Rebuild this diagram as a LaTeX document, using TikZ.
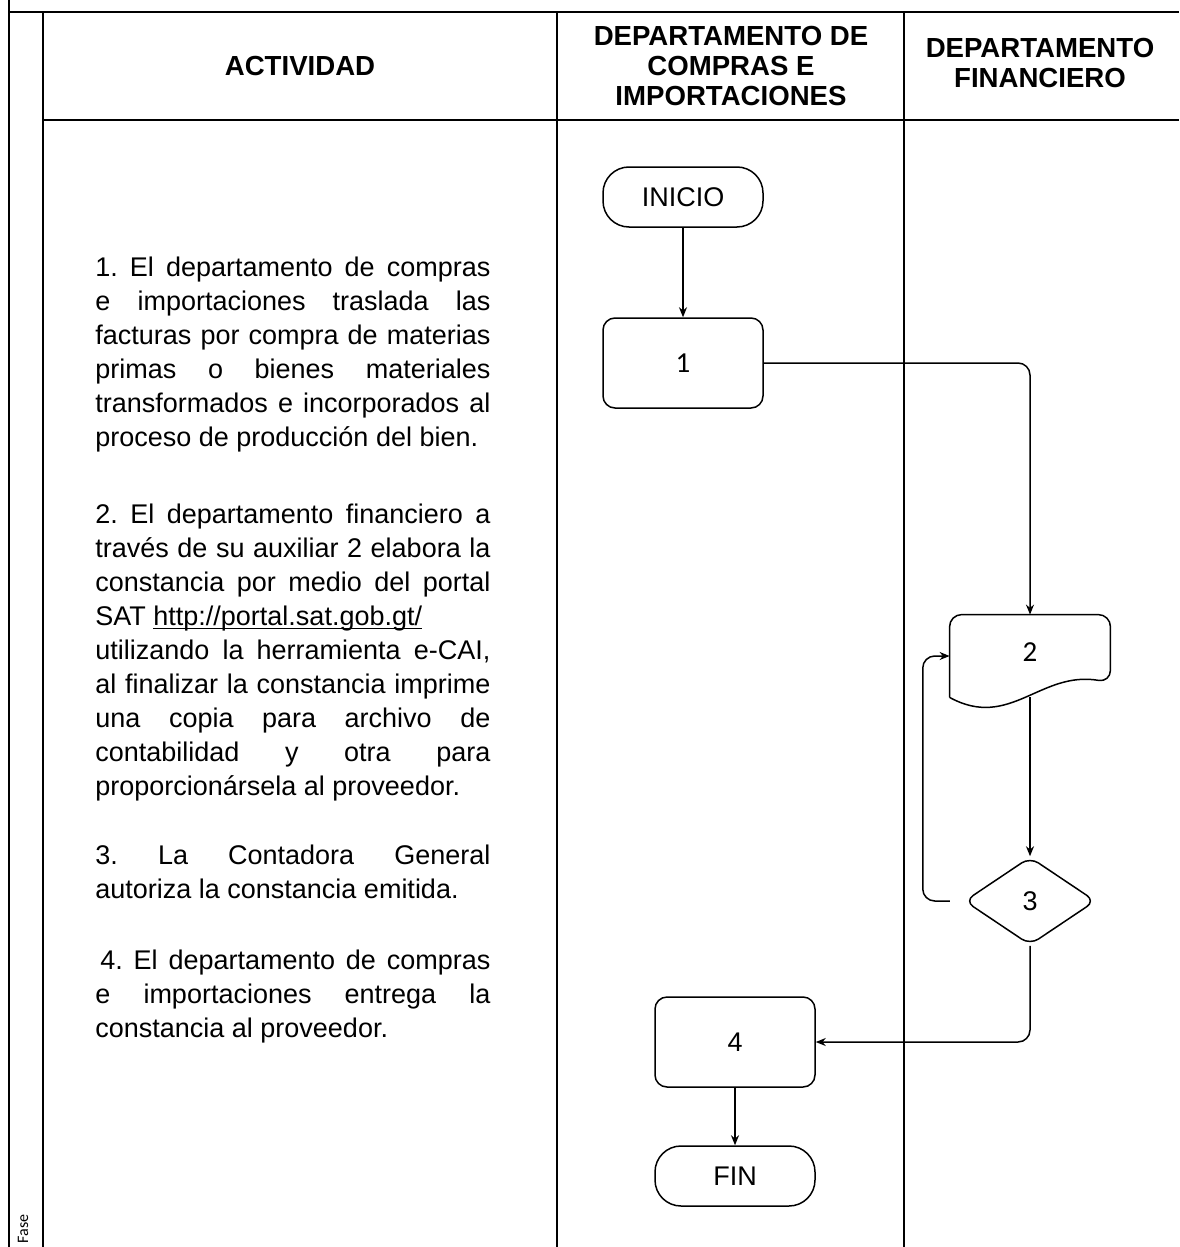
\documentclass[tikz,border=0pt]{standalone}
\usepackage{fontspec}
\setmainfont{Liberation Sans}
\newfontfamily\calib{Carlito}
\usetikzlibrary{shapes.geometric,arrows.meta}
\setlength{\parindent}{0pt}
\frenchspacing
\tolerance=10000
\hyphenpenalty=10000
\exhyphenpenalty=10000
\newcommand{\txt}{\fontsize{13.5pt}{17pt}\selectfont}
\newcommand{\hdr}{\fontsize{13.8pt}{14.8pt}\selectfont\bfseries}
\newcommand{\num}{\calib\fontsize{14.5pt}{17pt}\selectfont}
\newcommand{\ulnk}[1]{\leavevmode\setbox0\hbox{#1}\rlap{\rule[-1.6pt]{\wd0}{0.6pt}}\box0}
\begin{document}
\begin{tikzpicture}[x=0.5pt,y=-0.5pt,
    frame/.style={line width=1pt},
    term/.style={draw,line width=0.75pt,rounded corners=13pt,minimum width=80pt,minimum height=30pt,font=\txt},
    proc/.style={draw,line width=0.75pt,rounded corners=6pt,minimum width=80pt,minimum height=45pt,font=\txt},
    dec/.style={draw,line width=0.75pt,diamond,rounded corners=5pt,minimum width=65.5pt,minimum height=44pt,inner sep=0pt,font=\txt},
    lnk/.style={line width=0.75pt,-{Stealth[length=5pt,width=4pt]}},
    act/.style={anchor=north west,inner sep=0pt,text width=197.5pt,align=justify,font=\txt}]
    \useasboundingbox (0,0) rectangle (1179,1247);
    % table
    \draw[frame] (9,0) -- (9,1247);
    \draw[frame] (9,12) -- (1179,12);
    \draw[frame] (43,120) -- (1179,120);
    \foreach \x in {43,557,904} \draw[frame] (\x,12) -- (\x,1247);
    \node[font=\hdr] (hact) at (300,66) {ACTIVIDAD};
    \node[font=\hdr,align=center] (hcom) at (731,66) {DEPARTAMENTO DE\\COMPRAS E\\IMPORTACIONES};
    \node[font=\hdr,align=center] (hfin) at (1040,63) {DEPARTAMENTO\\FINANCIERO};
    \node[rotate=90,inner sep=0pt,font=\calib\fontsize{8pt}{9pt}\selectfont] (fase) at (23,1229) {Fase};
    % activities
    \node[act] (a1) at (95,257) {1. El departamento de compras\linebreak
        e importaciones traslada las\linebreak
        facturas por compra de materias\linebreak
        primas o bienes materiales\linebreak
        transformados e incorporados al\linebreak
        proceso de producción del bien.};
    \node[act] (a2) at (95,504) {2. El departamento financiero a\linebreak
        través de su auxiliar 2 elabora la\linebreak
        constancia por medio del portal\linebreak
        SAT \ulnk{http://portal.sat.gob.gt/}\newline
        utilizando la herramienta e-CAI,\linebreak
        al finalizar la constancia imprime\linebreak
        una copia para archivo de\linebreak
        contabilidad y otra para\linebreak
        proporcionársela al proveedor.};
    \node[act] (a3) at (95,845) {3. La Contadora General\linebreak
        autoriza la constancia emitida.};
    \node[act] (a4) at (95,950) {\hspace*{2.5pt}4. El departamento de compras\linebreak
        e importaciones entrega la\linebreak
        constancia al proveedor.};
    % flow
    \node[term] (ini) at (683,197) {INICIO};
    \node[proc] (p1) at (683,363) {\num 1};
    \node[minimum width=80pt,minimum height=41pt,font=\txt] (p2) at (1030,656) {\raisebox{4pt}{\num 2}};
    \draw[line width=0.75pt,rounded corners=6pt] (p2.south west) -- (p2.north west) -- (p2.north east)
        -- ([yshift=7.5pt]p2.south east) .. controls +(-70,-12) and +(60,33) .. (p2.south west);
    \node[dec] (p3) at (1030,901) {3};
    \node[proc] (p4) at (735,1042) {4};
    \node[term] (fin) at (735,1176) {FIN};
    \draw[lnk] (ini) -- (p1);
    \draw[lnk,rounded corners=6pt] (p1) -| (p2);
    \draw[lnk] (p2) -- (p3);
    \draw[lnk,rounded corners=6pt,shorten <=7pt] (p3.west) -- ++(-41,0) |- (p2.west);
    \draw[lnk,rounded corners=6pt] (p3) |- (p4);
    \draw[lnk] (p4) -- (fin);
\end{tikzpicture}
\end{document}
